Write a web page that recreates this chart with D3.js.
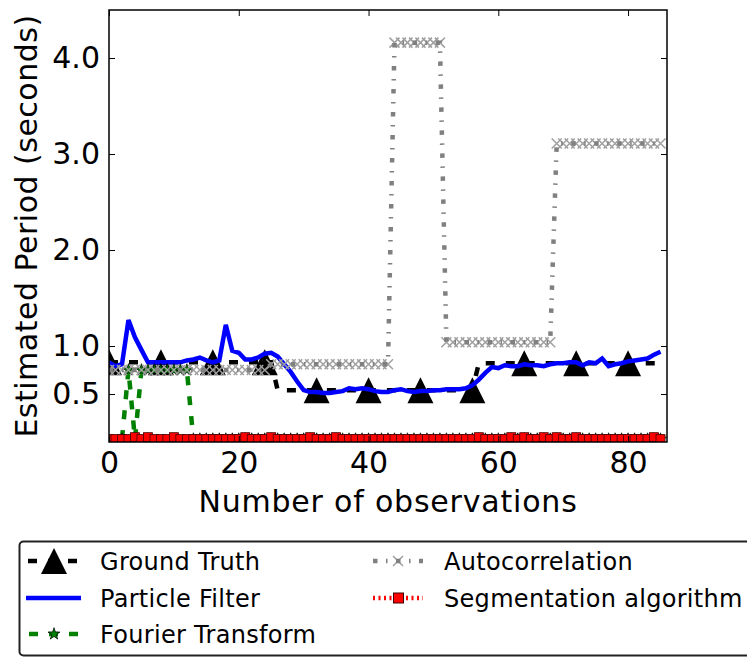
<!DOCTYPE html>
<html><head><meta charset="utf-8">
<script src="https://cdn.jsdelivr.net/npm/d3@7"></script>
<style>
body{margin:0;background:#fff}
text{font-family:"DejaVu Sans",sans-serif;fill:#000}
</style>
</head><body>
<svg id="chart" width="747" height="657"></svg>
<script>
// ---------- data ----------
const groundTruth = [
 0.83,0.83,0.83,0.83,0.83,0.83,0.83,0.83,0.83,0.83,
 0.83,0.83,0.83,0.83,0.83,0.83,0.83,0.83,0.83,0.83,
 0.83,0.83,0.83,0.83,0.83,0.83,0.54,0.54,0.54,0.54,
 0.54,0.54,0.54,0.54,0.54,0.54,0.54,0.54,0.54,0.54,
 0.54,0.54,0.54,0.54,0.54,0.54,0.54,0.54,0.54,0.54,
 0.54,0.54,0.54,0.54,0.54,0.54,0.54,0.82,0.82,0.82,
 0.82,0.82,0.82,0.82,0.82,0.82,0.82,0.82,0.82,0.82,
 0.82,0.82,0.82,0.82,0.82,0.82,0.82,0.82,0.82,0.82,
 0.82,0.82,0.82,0.82,0.82,0.82];
const particleFilter = [
 0.83,0.79,0.81,1.27,1.09,0.96,0.83,0.83,0.83,0.83,
 0.83,0.83,0.85,0.86,0.88,0.85,0.83,0.85,1.22,0.95,
 0.93,0.86,0.86,0.88,0.92,0.93,0.89,0.81,0.73,0.63,
 0.54,0.52,0.52,0.51,0.51,0.52,0.53,0.56,0.55,0.56,
 0.55,0.53,0.52,0.52,0.54,0.55,0.53,0.52,0.53,0.53,
 0.54,0.54,0.55,0.55,0.55,0.56,0.59,0.65,0.72,0.78,
 0.77,0.80,0.79,0.79,0.81,0.80,0.80,0.79,0.81,0.82,
 0.82,0.83,0.83,0.80,0.83,0.82,0.87,0.79,0.81,0.82,
 0.84,0.85,0.86,0.87,0.91,0.94];
const fourierTransform = [
 null,null,0.03,0.75,0.03,0.75,0.75,0.75,0.75,0.75,
 0.75,0.75,0.75,0.03,0.03,0.03,0.03,0.03,0.03,0.03,
 0.03,0.03,0.03,0.03,0.03,0.03,0.03,0.03,0.03,0.03,
 0.03,0.03,0.03,0.03,0.03,0.03,0.03,0.03,0.03,0.03,
 0.03,0.03,0.03,0.03,0.03,0.03,0.03,0.03,0.03,0.03,
 0.03,0.03,0.03,0.03,0.03,0.03,0.03,0.03,0.03,0.03,
 0.03,0.03,0.03,0.03,0.03,0.03,0.03,0.03,0.03,0.03,
 0.03,0.03,0.03,0.03,0.03,0.03,0.03,0.03,0.03,0.03,
 0.03,0.03,0.03,0.03,0.03,0.03];
const autocorrelation = [
 0.75,0.75,0.75,0.75,0.75,0.75,0.75,0.75,0.75,0.75,
 0.75,0.75,0.75,0.75,0.75,0.75,0.75,0.75,0.75,0.75,
 0.75,0.75,0.75,0.75,0.75,0.81,0.81,0.81,0.81,0.81,
 0.81,0.81,0.81,0.81,0.81,0.81,0.81,0.81,0.81,0.81,
 0.81,0.81,0.81,0.81,4.16,4.16,4.16,4.16,4.16,4.16,
 4.16,4.16,1.04,1.04,1.04,1.04,1.04,1.04,1.04,1.04,
 1.04,1.04,1.04,1.04,1.04,1.04,1.04,1.04,1.04,3.11,
 3.11,3.11,3.11,3.11,3.11,3.11,3.11,3.11,3.11,3.11,
 3.11,3.11,3.11,3.11,3.11,3.11];
const segmentation = [
 0.03,0.03,0.03,0.03,0.05,0.03,0.05,0.03,0.03,0.03,
 0.05,0.03,0.03,0.03,0.03,0.03,0.03,0.03,0.03,0.03,
 0.03,0.05,0.03,0.03,0.03,0.05,0.03,0.03,0.03,0.03,
 0.03,0.05,0.03,0.03,0.03,0.05,0.03,0.03,0.03,0.03,
 0.03,0.03,0.03,0.03,0.03,0.03,0.03,0.03,0.03,0.03,
 0.03,0.03,0.03,0.03,0.03,0.03,0.03,0.05,0.03,0.03,
 0.03,0.03,0.05,0.03,0.05,0.03,0.03,0.05,0.03,0.05,
 0.03,0.03,0.05,0.03,0.03,0.03,0.03,0.03,0.03,0.03,
 0.03,0.03,0.03,0.03,0.05,0.03];
const xTicks = [0,20,40,60,80];
const yTicks = [0.5,1.0,2.0,3.0,4.0];
const gtMarkerEvery = 8;
const legendLabels = ["Ground Truth","Particle Filter","Fourier Transform","Autocorrelation","Segmentation algorithm"];

// ---------- layout ----------
const L = 109, R = 667, T = 10, B = 442;
const svg = d3.select("#chart");
const x = d3.scaleLinear().domain([0,86]).range([L,R]);
const y = d3.scaleLinear().domain([0,4.5]).range([B,T]);

svg.append("defs").append("clipPath").attr("id","plotclip")
  .append("rect").attr("x",L).attr("y",T).attr("width",R-L).attr("height",B-T);

const plot = svg.append("g").attr("clip-path","url(#plotclip)");
const pts = arr => arr.map((v,i)=>({i,v}));
const line = d3.line().defined(d=>d.v!=null).x(d=>x(d.i)).y(d=>y(d.v));

const triPath = "M0,-13L13,13L-13,13Z";
const xPath = "M-5,-5L5,5M-5,5L5,-5";
const starPath = d3.symbol(d3.symbolStar, 45)();

const styles = {
  gt:{stroke:"#000", width:4.5, dash:"9,11"},
  pf:{stroke:"#0000ff", width:4.5, dash:null},
  ft:{stroke:"#008000", width:4.5, dash:"9,11"},
  ac:{stroke:"#808080", width:4.5, dash:"4.5,8.5,1.5,8.5"},
  sg:{stroke:"#ff0000", width:4.5, dash:"2,3.5"}
};
function drawLine(g, data, s){
  g.append("path").attr("d",line(pts(data))).attr("fill","none")
    .attr("stroke",s.stroke).attr("stroke-width",s.width)
    .attr("stroke-dasharray",s.dash);
}

// Ground truth
drawLine(plot, groundTruth, styles.gt);
plot.selectAll(".tri").data(pts(groundTruth).filter(d=>d.i%gtMarkerEvery===0)).enter()
  .append("path").attr("d",triPath).attr("fill","#000")
  .attr("transform",d=>`translate(${x(d.i)},${y(d.v)})`);
// Particle filter
drawLine(plot, particleFilter, styles.pf);
// Fourier
drawLine(plot, fourierTransform, styles.ft);
plot.selectAll(".star").data(pts(fourierTransform).filter(d=>d.v!=null)).enter()
  .append("path").attr("d",starPath).attr("fill","#008000").attr("stroke","#000").attr("stroke-width",0.7)
  .attr("transform",d=>`translate(${x(d.i)},${y(d.v)})`);
// Autocorrelation
plot.selectAll(".xm").data(pts(autocorrelation)).enter()
  .append("path").attr("d",xPath).attr("stroke","#a0a0a0").attr("stroke-width",1.5).attr("fill","none")
  .attr("transform",d=>`translate(${x(d.i)},${y(d.v)})`);
drawLine(plot, autocorrelation, styles.ac);
// Segmentation
drawLine(plot, segmentation, styles.sg);
plot.selectAll(".sq").data(pts(segmentation)).enter()
  .append("rect").attr("x",d=>x(d.i)-4.5).attr("y",d=>y(d.v)-4.5).attr("width",9).attr("height",9)
  .attr("fill","#ff0000").attr("stroke","#400000").attr("stroke-width",0.8);

// ---------- axes ----------
const axB = svg.append("g").attr("transform",`translate(0,${B})`)
  .call(d3.axisBottom(x).tickValues(xTicks).tickFormat(d3.format("d")).tickSizeInner(-6).tickSizeOuter(0).tickPadding(10));
const axT = svg.append("g").attr("transform",`translate(0,${T})`)
  .call(d3.axisTop(x).tickValues(xTicks).tickFormat("").tickSizeInner(-6).tickSizeOuter(0));
const axL = svg.append("g").attr("transform",`translate(${L},0)`)
  .call(d3.axisLeft(y).tickValues(yTicks).tickFormat(d3.format(".1f")).tickSizeInner(-6).tickSizeOuter(0).tickPadding(9));
const axR = svg.append("g").attr("transform",`translate(${R},0)`)
  .call(d3.axisRight(y).tickValues(yTicks).tickFormat("").tickSizeInner(-6).tickSizeOuter(0));
[axB,axT,axL,axR].forEach(a=>{
  a.select(".domain").remove();
  a.selectAll(".tick line").attr("stroke","#000").attr("stroke-width",1);
  a.selectAll("text").attr("font-size",30).attr("font-family","DejaVu Sans").attr("fill","#000");
});
svg.append("rect").attr("x",L).attr("y",T).attr("width",R-L).attr("height",B-T)
  .attr("fill","none").attr("stroke","#000").attr("stroke-width",1.5);

svg.append("text").attr("x",(L+R)/2).attr("y",512).attr("text-anchor","middle")
  .attr("font-size",30).attr("letter-spacing",0.8).text("Number of observations");
svg.append("text").attr("transform",`translate(37,${(T+B)/2}) rotate(-90)`).attr("text-anchor","middle")
  .attr("font-size",30).attr("letter-spacing",0.5).text("Estimated Period (seconds)");

// ---------- legend ----------
const lg = svg.append("g");
lg.append("rect").attr("x",19.5).attr("y",541.5).attr("width",760).attr("height",114)
  .attr("rx",4).attr("fill","#fff").attr("stroke","#222").attr("stroke-width",2);
const rows = [561,598,634];
function lgLine(x0,x1,yy,s){
  lg.append("line").attr("x1",x0).attr("x2",x1).attr("y1",yy).attr("y2",yy)
    .attr("stroke",s.stroke).attr("stroke-width",s.width).attr("stroke-dasharray",s.dash);
}
// col 1
lgLine(28,80,rows[0],styles.gt);
lg.append("path").attr("d",triPath).attr("fill","#000").attr("transform",`translate(54,${rows[0]})`);
lgLine(26,81,rows[1],styles.pf);
lgLine(29,80,rows[2],styles.ft);
lg.append("path").attr("d",starPath).attr("fill","#008000").attr("stroke","#000").attr("stroke-width",0.7)
  .attr("transform",`translate(54,${rows[2]})`);
// col 2
lg.append("path").attr("d",xPath).attr("stroke","#a0a0a0").attr("stroke-width",1.5).attr("transform",`translate(398,${rows[0]})`);
lgLine(373,423,rows[0],styles.ac);
lgLine(373,423,rows[1],styles.sg);
lg.append("rect").attr("x",393.5).attr("y",rows[1]-5).attr("width",10).attr("height",10)
  .attr("fill","#ff0000").attr("stroke","#400000").attr("stroke-width",1);
const lpos = [[100,rows[0]],[100,rows[1]],[100,rows[2]],[444,rows[0]],[444,rows[1]]];
legendLabels.forEach((t,i)=>{
  lg.append("text").attr("x",lpos[i][0]).attr("y",lpos[i][1]+9).attr("font-size",24)
    .attr("letter-spacing",0.3).text(t);
});
</script>
</body></html>
